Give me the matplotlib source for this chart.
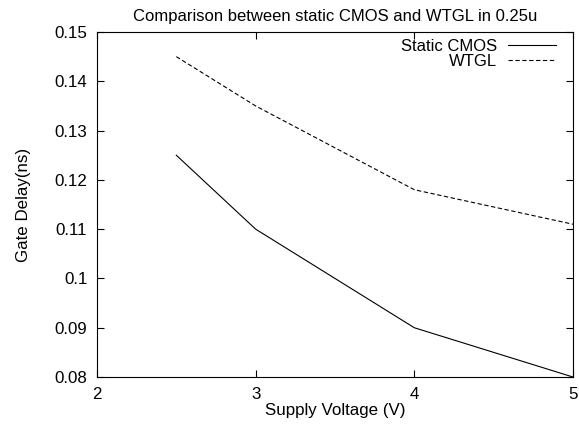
import matplotlib
matplotlib.use("Agg")
import matplotlib.pyplot as plt

plt.rcParams["font.family"] = ["Liberation Sans", "DejaVu Sans"]
plt.rcParams["font.size"] = 12.2

voltage = [2.5, 3, 4, 5]
static_cmos = [0.125, 0.110, 0.090, 0.080]
wtgl = [0.145, 0.135, 0.118, 0.111]

fig = plt.figure(figsize=(5.79, 4.24), dpi=100)
ax = fig.add_axes([0.1675, 0.1108, 0.8221, 0.8137])

ax.plot(voltage, static_cmos, color="black", linewidth=0.8, label="Static CMOS")
ax.plot(voltage, wtgl, color="black", linewidth=0.8, linestyle=(0, (3.9, 2.3)), label="WTGL")

ax.set_xlim(2, 5)
ax.set_ylim(0.08, 0.15)
ax.set_xticks([2, 3, 4, 5])
ax.set_xticklabels(["2", "3", "4", "5"])
ax.set_yticks([0.08, 0.09, 0.1, 0.11, 0.12, 0.13, 0.14, 0.15])
ax.set_yticklabels(["0.08", "0.09", "0.1", "0.11", "0.12", "0.13", "0.14", "0.15"])
ax.tick_params(direction="in", top=True, right=True, length=5, width=0.8, pad=7)
for s in ax.spines.values():
    s.set_linewidth(0.8)

ax.set_xlabel("Supply Voltage (V)", labelpad=1)
ax.set_ylabel("Gate Delay(ns)", labelpad=17)
ax.set_title("Comparison between static CMOS and WTGL in 0.25u", fontsize=12, pad=8)

ax.legend(loc="upper right", bbox_to_anchor=(0.978, 1.0), borderaxespad=0,
          frameon=False, markerfirst=False, fontsize=12, handlelength=2.9,
          handletextpad=0.65, labelspacing=0.0, alignment="right")

plt.savefig("out.png")
